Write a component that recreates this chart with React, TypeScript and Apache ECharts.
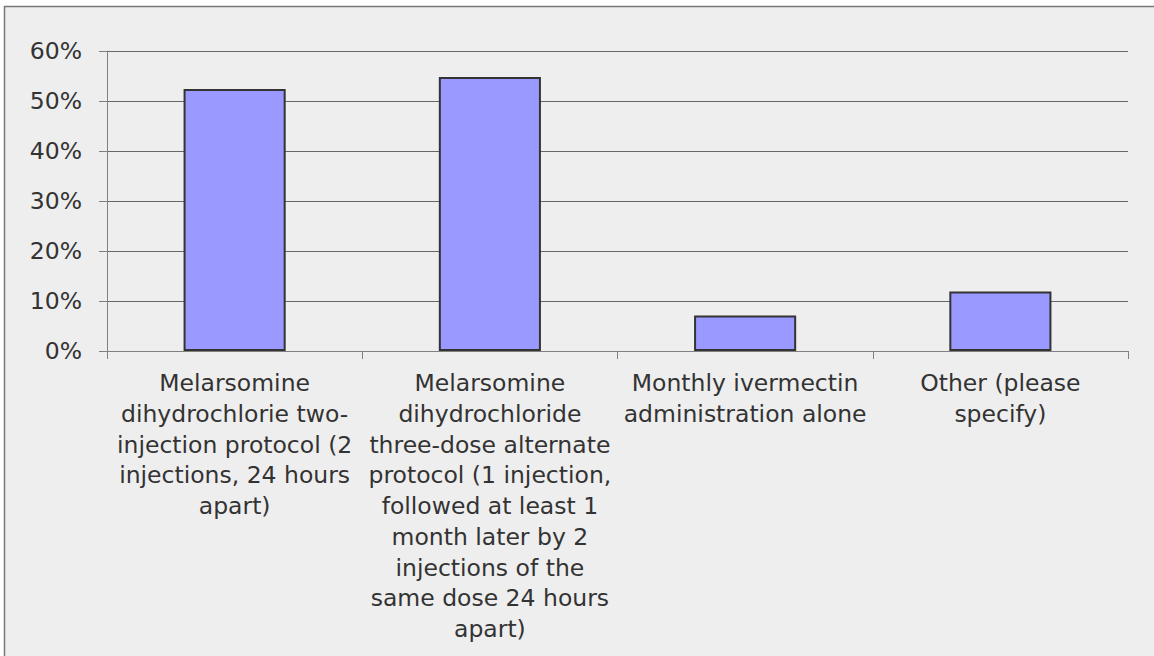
import React, { useEffect, useRef } from "react";
import * as echarts from "echarts";

const categories: string[] = [
  "Melarsomine\ndihydrochlorie two-\ninjection protocol (2\ninjections, 24 hours\napart)",
  "Melarsomine\ndihydrochloride\nthree-dose alternate\nprotocol (1 injection,\nfollowed at least 1\nmonth later by 2\ninjections of the\nsame dose 24 hours\napart)",
  "Monthly ivermectin\nadministration alone",
  "Other (please\nspecify)",
];
const values: number[] = [52.4, 54.8, 7.1, 11.9];
const yTicks: number[] = [0, 10, 20, 30, 40, 50, 60];

const FONT = "'DejaVu Sans', Verdana, sans-serif";

export default function App() {
  const ref = useRef<HTMLDivElement>(null);
  useEffect(() => {
    if (!ref.current) return;
    const chart = echarts.init(ref.current, null, { renderer: "svg" });
    chart.setOption({
      animation: false,
      backgroundColor: "#ffffff",
      graphic: [
        {
          type: "rect",
          silent: true,
          z: -10,
          shape: { x: 4.5, y: 6.5, width: 1200, height: 700 },
          style: { fill: "#eeeeee", stroke: "#777777", lineWidth: 1.5 },
        },
      ],
      grid: { left: 107, right: 26, top: 51, bottom: 305, containLabel: false },
      xAxis: {
        type: "category",
        data: categories,
        axisLine: { show: true, lineStyle: { color: "#808080", width: 1 } },
        axisTick: { show: true, length: 8, lineStyle: { color: "#808080" } },
        axisLabel: {
          interval: 0,
          margin: 17,
          color: "#333333",
          fontFamily: FONT,
          fontSize: 23.5,
          lineHeight: 30.7,
          align: "center",
        },
      },
      yAxis: {
        type: "value",
        min: yTicks[0],
        max: yTicks[yTicks.length - 1],
        interval: 10,
        axisLine: { show: true, lineStyle: { color: "#808080", width: 1 } },
        axisTick: { show: true, length: 8, lineStyle: { color: "#808080" } },
        axisLabel: {
          margin: 25,
          color: "#333333",
          fontFamily: FONT,
          fontSize: 23.5,
          formatter: (v: number) => `${v}%`,
        },
        splitLine: { show: true, lineStyle: { color: "#666666", width: 1 } },
      },
      series: [
        {
          type: "bar",
          data: values,
          barCategoryGap: "60%",
          itemStyle: { color: "#9999ff", borderColor: "#333333", borderWidth: 2 },
        },
      ],
    });
    return () => chart.dispose();
  }, []);
  return (
    <div style={{ position: "fixed", left: 0, top: 0, width: 1154, height: 656, background: "#fff" }}>
      <div ref={ref} style={{ width: 1154, height: 656 }} />
    </div>
  );
}
